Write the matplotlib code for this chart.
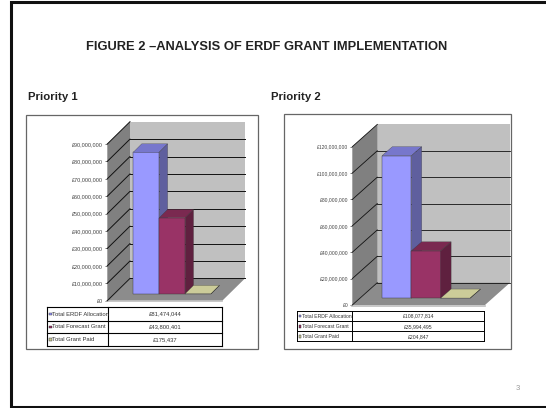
import matplotlib
matplotlib.use("Agg")
import matplotlib.pyplot as plt
from matplotlib.patches import Polygon, Rectangle
from matplotlib.lines import Line2D
from matplotlib.ticker import FuncFormatter
from matplotlib.transforms import Affine2D

plt.rcParams['font.family'] = ['Liberation Sans', 'DejaVu Sans']

W, H = 546, 408
title = "FIGURE 2 \u2013ANALYSIS OF ERDF GRANT IMPLEMENTATION"
series_names = ["Total ERDF Allocation", "Total Forecast Grant", "Total Grant Paid"]
series_colors = ["#9999FF", "#993366", "#CCCC99"]
top_colors = ["#7777CC", "#7A2950", "#CCCC99"]
panel_titles = ["Priority 1", "Priority 2"]
values_p1 = [81474044, 43800401, 175437]
values_p2 = [108077814, 35994495, 204847]
labels_p1 = ["£81,474,044", "£43,800,401", "£175,437"]
labels_p2 = ["£108,077,814", "£35,994,495", "£204,847"]
ymax_p1, step_p1 = 90000000, 10000000
ymax_p2, step_p2 = 120000000, 20000000

fig = plt.figure(figsize=(W / 100, H / 100), dpi=100, facecolor="white")
bg = fig.add_axes([0, 0, 1, 1])
bg.set_xlim(0, W); bg.set_ylim(H, 0); bg.axis("off")

# slide frame
bg.plot([W + 5, 11.3, 11.3, W + 5], [2, 2, 406.6, 406.6], color="#111111", lw=2.2, solid_joinstyle="miter")
bg.text(266.5, 47.5, title, ha="center", va="center", fontsize=9.3, fontweight="bold", color="#222222")
bg.text(27.5, 97, panel_titles[0], ha="left", va="center", fontsize=8.2, fontweight="bold", color="#222222")
bg.text(271, 97, panel_titles[1], ha="left", va="center", fontsize=8.2, fontweight="bold", color="#222222")
bg.text(517.7, 389, "3", ha="center", va="center", fontsize=5.5, color="#999999")


def shade(c, f):
    r, g, b = matplotlib.colors.to_rgb(c)
    return (r * f, g * f, b * f)


def chart(box, front, y0, ytop, depth, values, ymax, step, bar_shift, bar_depth, bar_left, bar_w,
          table_x, table_y, labels, tick_fs, table_fs, lw_grid, lw_tab):
    # chart box
    bg.add_patch(Rectangle((box[0], box[1]), box[2] - box[0], box[3] - box[1], fc="white", ec="#666666", lw=0.9))
    x0, x1 = front
    ax = fig.add_axes([x0 / W, 1 - y0 / H, (x1 - x0) / W, (y0 - ytop) / H])
    ax.set_xlim(x0, x1); ax.set_ylim(0, ymax)
    ax.patch.set_visible(False)
    for s in ax.spines.values():
        s.set_visible(False)
    ax.set_xticks([])
    ax.set_yticks(list(range(0, ymax + 1, step)))
    ax.yaxis.set_major_formatter(FuncFormatter(lambda v, p: f"£{int(v):,}"))
    ax.tick_params(axis="y", labelsize=tick_fs, length=1.5, width=0.5, pad=1.5, colors="#444444")
    dx, dy = depth
    back = ax.transData + Affine2D().translate(dx, dy)
    kw = dict(clip_on=False)
    # back wall, side wall, floor
    ax.add_patch(Polygon([(x0, 0), (x1, 0), (x1, ymax), (x0, ymax)], fc="#C0C0C0", ec="none", transform=back, **kw))
    side_pts = [ax.transData.transform(p) for p in [(x0, 0), (x0, ymax)]]
    pts = [side_pts[0], side_pts[1], side_pts[1] + (dx, dy), side_pts[0] + (dx, dy)]
    ax.add_patch(Polygon(pts, fc="#808080", ec="none", transform=None, **kw))
    a, b = ax.transData.transform((x0, 0)), ax.transData.transform((x1, 0))
    ax.add_patch(Polygon([a, b, b + (dx, dy), a + (dx, dy)], fc="#8C8C8C", ec="none", transform=None, **kw))
    ax.add_line(Line2D([a[0], b[0]], [a[1] - 0.6, b[1] - 0.6], color="#BDBDBD", lw=1.2, transform=None, **kw))
    # gridlines
    for v in range(0, ymax + 1, step):
        p = ax.transData.transform((x0, v))
        ax.add_line(Line2D([p[0], p[0] + dx], [p[1], p[1] + dy], color="#111111", lw=lw_grid, transform=None, **kw))
        if v < ymax:
            ax.add_line(Line2D([x0, x1], [v, v], color="#111111", lw=lw_grid, transform=back, **kw))
    # bars
    sx, sy = bar_shift
    bdx, bdy = bar_depth
    face = ax.transData + Affine2D().translate(sx, sy)
    for i, (v, c) in enumerate(zip(values, series_colors)):
        l, r = bar_left + i * bar_w, bar_left + (i + 1) * bar_w
        ax.add_patch(Polygon([(l, 0), (r, 0), (r, v), (l, v)], fc=c, ec="#333333", lw=0.3, transform=face, zorder=5 + i, **kw))
        tl, tr = face.transform((l, v)), face.transform((r, v))
        br = face.transform((r, 0))
        ax.add_patch(Polygon([tl, tr, tr + (bdx, bdy), tl + (bdx, bdy)], fc=top_colors[i], ec="#333333", lw=0.2,
                             transform=None, zorder=5 + i, **kw))
        ax.add_patch(Polygon([br, tr, tr + (bdx, bdy), br + (bdx, bdy)], fc=shade(c, 0.62), ec="#333333", lw=0.2,
                             transform=None, zorder=5 + i, **kw))
    # data table
    tx0, tx1, tx2 = table_x
    for ty in table_y:
        bg.plot([tx0, tx2], [ty, ty], color="black", lw=lw_tab, zorder=4)
    for tx in table_x:
        bg.plot([tx, tx], [table_y[0], table_y[-1]], color="black", lw=lw_tab, zorder=4)
    for i in range(3):
        yc = (table_y[i] + table_y[i + 1]) / 2
        bg.add_patch(Rectangle((tx0 + 2, yc - 1.5), 2.6, 2.8, fc=series_colors[i], ec="#222222", lw=0.3, zorder=5))
        bg.text(tx0 + 5, yc, series_names[i], fontsize=table_fs, va="center", ha="left", color="#333333", zorder=5)
        bg.text((tx1 + tx2) / 2, yc, labels[i], fontsize=table_fs, va="center", ha="center", color="#333333", zorder=5)


chart(box=(25.7, 115, 257.7, 349), front=(107.3, 222.3), y0=300.7, ytop=144, depth=(22.7, 22.3),
      values=values_p1, ymax=ymax_p1, step=step_p1, bar_shift=(6.7, 6.7), bar_depth=(8.3, 8.3),
      bar_left=126.7, bar_w=25.9, table_x=(47.3, 108.3, 221.7), table_y=(307.3, 320.7, 333.3, 346),
      labels=labels_p1, tick_fs=4.0, table_fs=4.2, lw_grid=0.7, lw_tab=0.8)

chart(box=(284, 114.3, 510.7, 349), front=(352.3, 485), y0=305, ytop=146.7, depth=(25, 22.3),
      values=values_p2, ymax=ymax_p2, step=step_p2, bar_shift=(6.7, 6.7), bar_depth=(10.3, 9),
      bar_left=375.3, bar_w=29.4, table_x=(296.7, 352.3, 484.3), table_y=(311, 321.3, 331.3, 341.3),
      labels=labels_p2, tick_fs=3.6, table_fs=3.7, lw_grid=0.6, lw_tab=0.7)

fig.savefig("out.png", dpi=100)
